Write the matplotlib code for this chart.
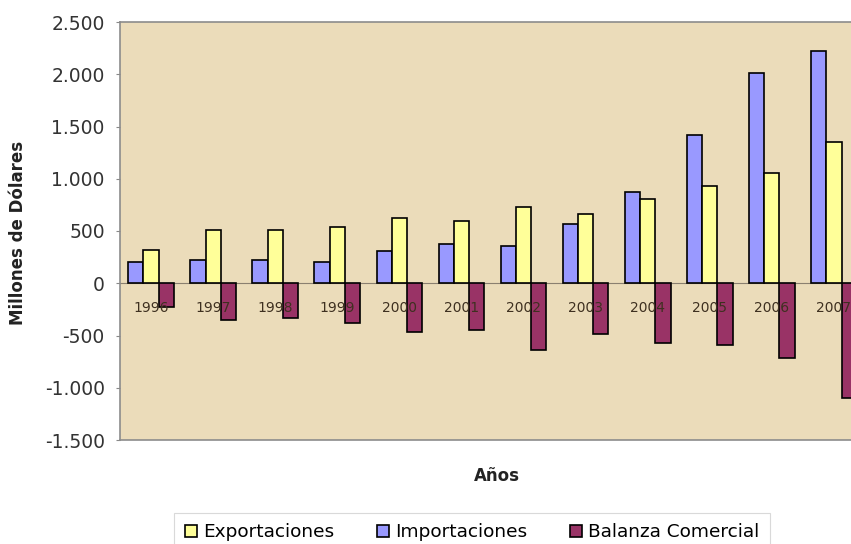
import numpy as np
import matplotlib
matplotlib.use('agg')
import matplotlib.pyplot as plt
from matplotlib.ticker import FuncFormatter

# data (millones de dólares)
years = ['1996', '1997', '1998', '1999', '2000', '2001', '2002',
         '2003', '2004', '2005', '2006', '2007']
importaciones = [204, 220, 220, 204, 309, 379, 357, 570, 872, 1423, 2012, 2225]
exportaciones = [321, 506, 506, 538, 627, 592, 729, 665, 802, 926, 1054, 1350]
balanza = [-226, -353, -337, -376, -465, -449, -640, -481, -570, -592, -719, -1101]

col_imp = '#9999FF'
col_exp = '#FFFF99'
col_bal = '#993366'

fig = plt.figure(figsize=(8.51, 5.44), dpi=100)
fig.patch.set_facecolor('white')
# plot area runs past the right edge, as in the cropped original
ax = fig.add_axes([120 / 851, 104 / 544, 745 / 851, 418 / 544])
ax.set_facecolor('#EBDCBA')

x = np.arange(len(years))
w = 0.245
ax.bar(x - w, importaciones, w, color=col_imp, edgecolor='black', linewidth=1.2,
       label='Importaciones', zorder=3)
ax.bar(x, exportaciones, w, color=col_exp, edgecolor='black', linewidth=1.2,
       label='Exportaciones', zorder=3)
ax.bar(x + w, balanza, w, color=col_bal, edgecolor='black', linewidth=1.2,
       label='Balanza Comercial', zorder=3)

ax.axhline(0, color='#8a8070', linewidth=0.8, zorder=2)

ax.set_xlim(-0.5, len(years) - 0.5)
ax.set_ylim(-1500, 2500)
ax.set_yticks(np.arange(-1500, 2501, 500))
ax.yaxis.set_major_formatter(FuncFormatter(lambda v, p: f'{int(v):,}'.replace(',', '.')))
ax.tick_params(axis='y', labelsize=13.5, length=3, pad=8, color='#888888',
               labelcolor='#333333')
ax.set_xticks([])

# year labels sit inside the plot, just under the zero line, over the bars
for i, yr in enumerate(years):
    ax.text(i, -240, yr, ha='center', va='center', fontsize=10, color='#3e3020',
            zorder=4)

for s in ax.spines.values():
    s.set_color('#8c8c8c')
    s.set_linewidth(1.2)

fig.text(18 / 851, 1 - 233 / 544, 'Millones de Dólares', rotation=90, ha='center',
         va='center', fontsize=12, fontweight='bold', color='#222222')
fig.text(497 / 851, 1 - 476 / 544, 'Años', ha='center', va='center', fontsize=12,
         fontweight='bold', color='#222222')

h, l = ax.get_legend_handles_labels()
order = [1, 0, 2]
leg = fig.legend([h[i] for i in order], [l[i] for i in order], loc='upper center',
                 bbox_to_anchor=(472 / 851, 1 - 513 / 544), ncol=3, fontsize=13.3,
                 frameon=True, fancybox=False, edgecolor='#d0d0d0',
                 handlelength=0.65, handleheight=0.65, handletextpad=0.35,
                 columnspacing=2.3, borderpad=0.55, borderaxespad=0)
leg.get_frame().set_linewidth(0.8)

fig.savefig('out.png', dpi=100)
